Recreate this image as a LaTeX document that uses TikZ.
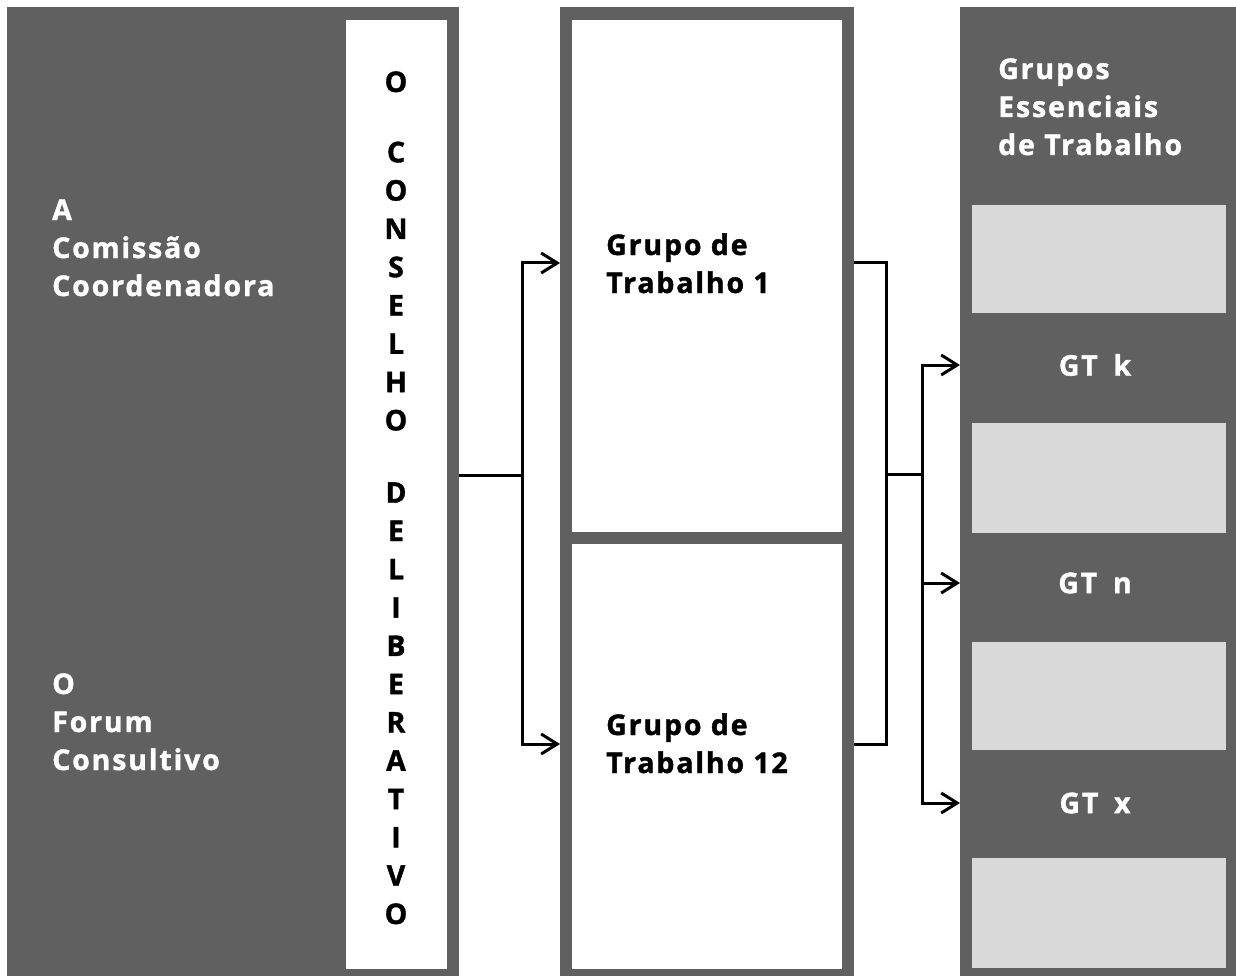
\documentclass[tikz,border=0pt]{standalone}
\usepackage{fontspec}
\newfontfamily\lab{Open Sans}[LetterSpace=6.5, BoldFeatures={FakeBold=1.3}]
\usetikzlibrary{arrows.meta}
\definecolor{panelgray}{HTML}{606060}
\definecolor{lightbox}{HTML}{D9D9D9}
\begin{document}
\begin{tikzpicture}[x=1pt,y=-1pt,
  panel/.style={fill=panelgray, draw=none, inner sep=0pt, outer sep=0pt, anchor=north west},
  whitebox/.style={fill=white, draw=none, inner sep=0pt, outer sep=0pt, anchor=north west},
  greybox/.style={fill=lightbox, draw=none, inner sep=0pt, outer sep=0pt, anchor=north west},
  lbl/.style={font=\lab\bfseries\fontsize{28.5}{38}\selectfont, align=left, inner sep=0pt, anchor=base west},
  wlbl/.style={lbl, text=white},
  ctr/.style={font=\lab\bfseries\fontsize{28.5}{38}\selectfont, align=center, inner sep=0pt, text=white},
  conn/.style={draw=black, line width=3pt},
  arr/.style={conn, -{Straight Barb[length=16pt,width=20pt,line width=3pt]}}]
\useasboundingbox (0,0) rectangle (1236,976);
\fill[white] (0,0) rectangle (1236,976);
% panels
\node[panel, minimum width=452pt, minimum height=969pt] (leftp) at (7,7) {};
\node[whitebox, minimum width=101pt, minimum height=949pt] (council) at (346,20) {};
\node[panel, minimum width=294pt, minimum height=969pt] (midp) at (560,7) {};
\node[whitebox, minimum width=270pt, minimum height=512pt] (wg1) at (572,20) {};
\node[whitebox, minimum width=270pt, minimum height=425pt] (wg2) at (572,544) {};
\node[panel, minimum width=276pt, minimum height=969pt] (rightp) at (960,7) {};
\node[greybox, minimum width=254pt, minimum height=108pt] (lb1) at (972,205) {};
\node[greybox, minimum width=254pt, minimum height=110pt] (lb2) at (972,423) {};
\node[greybox, minimum width=254pt, minimum height=108pt] (lb3) at (972,642) {};
\node[greybox, minimum width=254pt, minimum height=110pt] (lb4) at (972,858) {};
% texts (base anchor = last line baseline)
\node[wlbl] (tcom) at (52,296) {A\\Comissão\\Coordenadora};
\node[wlbl] (tfor) at (52,770) {O\\Forum\\Consultivo};
\node[font=\lab\bfseries\fontsize{28.5}{38.3}\selectfont, align=center, inner sep=0pt, anchor=base] (tcon) at (396,924)
  {O\\[32pt]C\\O\\N\\S\\E\\L\\H\\O\\[34pt]D\\E\\L\\I\\B\\E\\R\\A\\T\\I\\V\\O};
\node[lbl] (tg1) at (606,293) {Grupo de\\Trabalho 1};
\node[lbl] (tg2) at (606,773) {Grupo de\\Trabalho 12};
\node[wlbl] (tges) at (998,155) {Grupos\\Essenciais\\de Trabalho};
\node[ctr] (gtk) at (1095,365) {GT\hspace{0.55em}k};
\node[ctr] (gtn) at (1095,583) {GT\hspace{0.55em}n};
\node[ctr] (gtx) at (1095,803) {GT\hspace{0.55em}x};
% connectors
\coordinate (s1) at (leftp.east |- 0,475);
\coordinate (b1) at (522,475);
\coordinate (e1) at (midp.west |- 0,263);
\coordinate (e2) at (midp.west |- 0,744);
\draw[conn] (s1) -- (b1);
\draw[arr] (b1) |- (e1);
\draw[arr] (b1) |- (e2);
\coordinate (m1) at (midp.east |- 0,263);
\coordinate (m2) at (midp.east |- 0,744);
\coordinate (b2) at (886,474);
\coordinate (b3) at (922,474);
\draw[conn] (m1) -| (b2) |- (m2);
\draw[conn] (b2) -- (b3);
\draw[arr] (b3) |- (rightp.west |- gtk);
\draw[arr] (b3) |- (rightp.west |- gtx);
\draw[arr] (b3 |- gtn) -- (rightp.west |- gtn);
\end{tikzpicture}
\end{document}
